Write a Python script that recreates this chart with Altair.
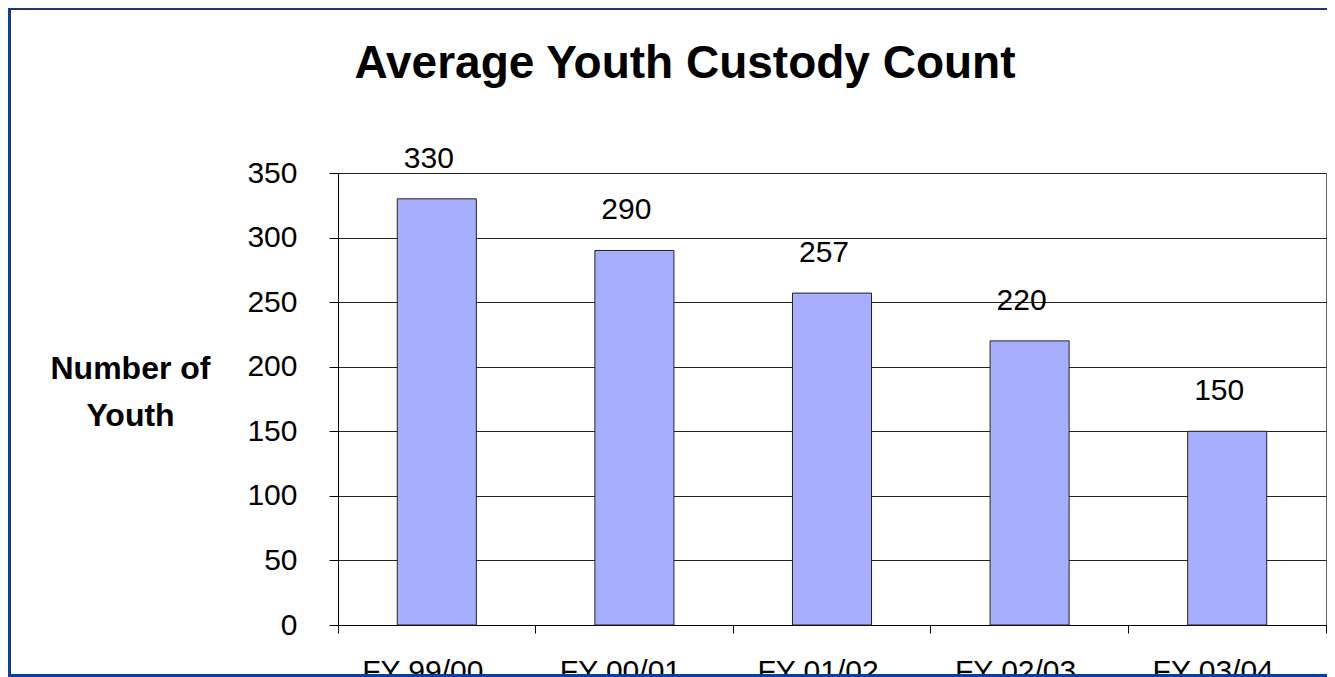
import altair as alt
import pandas as pd

# ---- data ----
years = ["FY 99/00", "FY 00/01", "FY 01/02", "FY 02/03", "FY 03/04"]
counts = [330, 290, 257, 220, 150]
y_ticks = [0, 50, 100, 150, 200, 250, 300, 350]

df = pd.DataFrame({"year": years, "count": counts})

FONT = "Liberation Sans"
BLUE = "#0042A5"
BAR = "#A6AEFD"

x_enc = alt.X(
    "year:N", sort=years, title=None,
    scale=alt.Scale(paddingInner=0, paddingOuter=0),
    axis=alt.Axis(
        bandPosition=1, tickExtra=True, labelOffset=-14, labelAngle=0,
        labelFontSize=30, labelFont=FONT, labelColor="black",
        labelBaseline="alphabetic", labelPadding=47,
        tickSize=8, tickColor="black", domainColor="black", grid=False,
    ),
)
y_enc = alt.Y(
    "count:Q", scale=alt.Scale(domain=[0, 350]),
    axis=alt.Axis(
        values=y_ticks, title=["Number of", "Youth"], titleAngle=0,
        titleAlign="center", titleBaseline="alphabetic", titleX=-208, titleY=205,
        titleFontSize=32, titleFont=FONT, titleFontWeight="bold",
        titleLineHeight=47, titleColor="black",
        labelFontSize=30, labelFont=FONT, labelColor="black", labelPadding=32,
        tickSize=9, tickColor="black", domainColor="black",
        gridColor="#222", gridWidth=1,
    ),
)

base = alt.Chart(df)
bars = base.mark_bar(color=BAR, stroke="#222", strokeWidth=1,
                     width=alt.RelativeBandSize(0.4)).encode(x=x_enc, y=y_enc)
labels = base.mark_text(dy=-31, dx=-8, baseline="alphabetic", fontSize=30,
                        font=FONT, color="black").encode(x=x_enc, y=y_enc, text="count:Q")

one = alt.Data(values=[{"k": 0}])
bottom_strip = alt.Chart(one).mark_rect(color=BLUE).encode(
    x=alt.value(-330), x2=alt.value(1000), y=alt.value(501), y2=alt.value(512))
left_strip = alt.Chart(one).mark_rect(color=BLUE).encode(
    x=alt.value(-330), x2=alt.value(-328), y=alt.value(-165), y2=alt.value(512))
top_strip = alt.Chart(one).mark_rect(color=BLUE).encode(
    x=alt.value(-330), x2=alt.value(1000), y=alt.value(-165), y2=alt.value(-164))
left_line = alt.Chart(one).mark_rule(color="#333", strokeWidth=1).encode(
    x=alt.value(-327.5), y=alt.value(-164), y2=alt.value(501))
top_line = alt.Chart(one).mark_rule(color="#333", strokeWidth=1).encode(
    x=alt.value(-328), x2=alt.value(1000), y=alt.value(-163.5))

chart = alt.layer(bars, labels, bottom_strip, left_strip, top_strip, left_line, top_line).properties(
    width=988, height=452,
    title=alt.TitleParams(
        text="Average Youth Custody Count", fontSize=46, font=FONT,
        fontWeight="bold", color="black", anchor="middle", dx=-147,
        baseline="alphabetic", offset=-116,
    ),
    autosize=alt.AutoSizeParams(type="none"),
    padding={"left": 330, "top": 165, "right": 1, "bottom": 52},
    background="white",
).configure_view(stroke="#666", strokeWidth=1)

chart.save("out.html", embed_options={"renderer": "svg", "actions": False})
